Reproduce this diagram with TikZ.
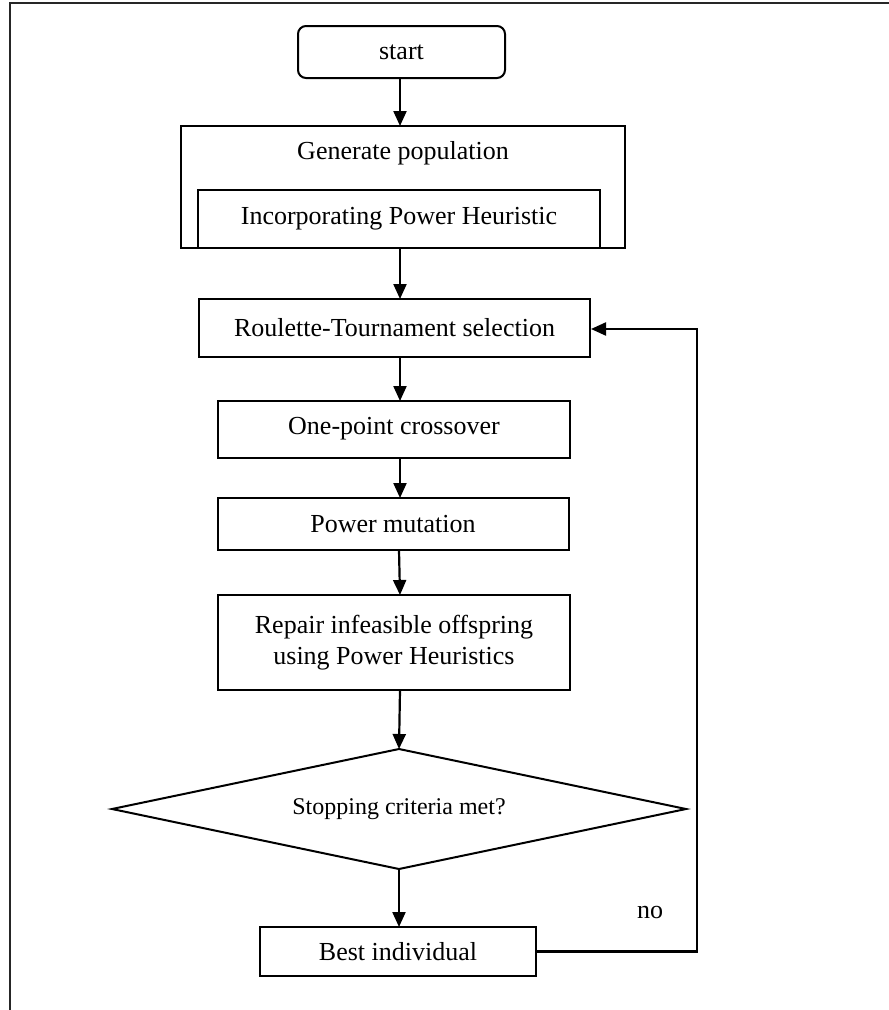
\documentclass[tikz,border=0pt]{standalone}
\usepackage{fontspec}
\setmainfont{Liberation Serif}
\usetikzlibrary{arrows.meta,shapes.geometric}
\begin{document}
\begin{tikzpicture}[x=1pt,y=-1pt,
  every node/.style={font=\fontsize{26}{31}\selectfont, inner sep=0pt},
  boxnode/.style={draw, line width=2pt, rectangle},
  flow/.style={line width=2.2pt, -{Triangle[width=13pt,length=15pt]}},
  plain/.style={line width=2.2pt}]
\useasboundingbox (0,0) rectangle (889,1010);
\draw[line width=1.5pt, black!85] (889,3) -- (10,3) -- (10,1010);
% start
\node[boxnode, rounded corners=8pt, minimum width=207pt, minimum height=52pt] (start) at (401.5,52) {start};
% generate population
\node[boxnode, minimum width=444pt, minimum height=122pt] (gen) at (403,187) {};
\node (gentext) at (403,153) {Generate population};
\node[minimum width=402pt, minimum height=58pt] (inc) at (399,219) {Incorporating Power Heuristic};
\draw[line width=2pt] (inc.south west) -- (inc.north west) -- (inc.north east) -- (inc.south east);
% roulette
\node[boxnode, minimum width=391pt, minimum height=58pt] (rou) at (394.5,328) {Roulette-Tournament selection};
\node[boxnode, minimum width=352pt, minimum height=57pt] (one) at (394,429) {One-point crossover};
\node[boxnode, minimum width=351pt, minimum height=52pt] (mut) at (393,524) {Power mutation};
\node[boxnode, minimum width=352pt, minimum height=95pt, align=center] (rep) at (394,642.5) {Repair infeasible offspring\\using Power Heuristics};
% diamond
\coordinate (dT) at (399,749);
\coordinate (dB) at (399,869);
\coordinate (dL) at (112,809);
\coordinate (dR) at (686,809);
\draw[line width=2pt] (dT) -- (dR) -- (dB) -- (dL) -- cycle;
\node[font=\fontsize{24}{28}\selectfont] (dec) at (399,809) {Stopping criteria met?};
% best
\node[boxnode, minimum width=276pt, minimum height=49pt] (best) at (398,951.5) {Best individual};
\node (no) at (650,912) {no};
% connectors
\draw[flow] (400,78) -- (400,126);
\draw[flow] (400,248) -- (400,299);
\draw[flow] (400,357) -- (400,401);
\draw[flow] (400,457.5) -- (400,498);
\draw[flow] (399,550) -- (400,595);
\draw[flow] (400,690) -- (dT);
\draw[flow] (dB) -- (399,927);
\coordinate (lt) at (697,329);
\draw[flow] (best.east) -- (best.east -| lt) -- (lt) -- (rou.east |- lt);
\end{tikzpicture}
\end{document}
